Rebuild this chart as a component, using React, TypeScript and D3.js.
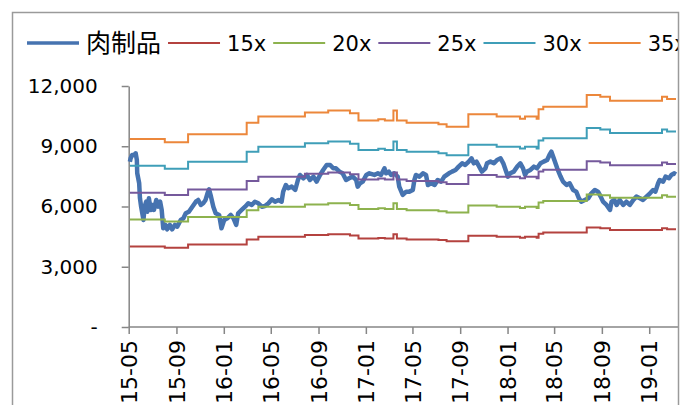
import React, { useEffect, useRef } from 'react';
import * as d3 from 'd3';

const seriesName = '肉制品';
const bandMultiples = [15, 20, 25, 30, 35];
const bandLabels = ['15x', '20x', '25x', '30x', '35x'];

// earnings per index point (value of the 1x band), changes on report dates
const epsDates = [
  '2015-05-04', '2015-08-02', '2015-10-01', '2016-02-29', '2016-03-30', '2016-07-28',
  '2016-09-26', '2016-11-21', '2016-12-13', '2017-02-02', '2017-02-19', '2017-03-13',
  '2017-03-22', '2017-04-16', '2017-07-07', '2017-07-28', '2017-09-22', '2017-12-04',
  '2018-02-02', '2018-02-15', '2018-03-17', '2018-03-22', '2018-04-03', '2018-07-24',
  '2018-08-28', '2018-09-22', '2019-02-03', '2019-02-16', '2019-03-11',
];
const epsValues = [
  267.5, 262.8, 274.1, 290.7, 299.3, 305.0,
  307.9, 304.0, 293.6, 295.7, 293.6, 307.9,
  293.6, 290.7, 288.4, 285.0, 302.6, 299.3,
  296.4, 299.3, 296.4, 309.7, 313.4, 330.1,
  327.7, 322.0, 327.7, 324.4, 324.4,
];

const priceDates = [
  '2015-05-04', '2015-05-06', '2015-05-10', '2015-05-15', '2015-05-19', '2015-05-22', '2015-05-23', '2015-05-28',
  '2015-05-30', '2015-06-02', '2015-06-08', '2015-06-11', '2015-06-15', '2015-06-18', '2015-06-22', '2015-06-27',
  '2015-07-01', '2015-07-05', '2015-07-11', '2015-07-16', '2015-07-21', '2015-07-25', '2015-07-29', '2015-08-04',
  '2015-08-08', '2015-08-15', '2015-08-21', '2015-08-28', '2015-09-03', '2015-09-12', '2015-09-19', '2015-09-25',
  '2015-10-03', '2015-10-12', '2015-10-21', '2015-10-27', '2015-11-03', '2015-11-09', '2015-11-15', '2015-11-20',
  '2015-11-24', '2015-11-28', '2015-12-05', '2015-12-11', '2015-12-20', '2015-12-26', '2016-01-02', '2016-01-10',
  '2016-01-19', '2016-01-26', '2016-02-02', '2016-02-07', '2016-02-16', '2016-02-25', '2016-03-04', '2016-03-13',
  '2016-03-21', '2016-03-30', '2016-04-08', '2016-04-16', '2016-04-25', '2016-05-04', '2016-05-12', '2016-05-21',
  '2016-05-29', '2016-06-02', '2016-06-09', '2016-06-15', '2016-06-24', '2016-07-03', '2016-07-10', '2016-07-15',
  '2016-07-24', '2016-08-02', '2016-08-10', '2016-08-19', '2016-08-27', '2016-09-05', '2016-09-13', '2016-09-22',
  '2016-10-01', '2016-10-09', '2016-10-16', '2016-10-25', '2016-11-02', '2016-11-11', '2016-11-19', '2016-11-28',
  '2016-12-07', '2016-12-11', '2016-12-17', '2016-12-24', '2017-01-02', '2017-01-10', '2017-01-23', '2017-02-01',
  '2017-02-09', '2017-02-18', '2017-02-22', '2017-03-01', '2017-03-07', '2017-03-15', '2017-03-24', '2017-03-28',
  '2017-04-06', '2017-04-15', '2017-04-23', '2017-05-02', '2017-05-06', '2017-05-10', '2017-05-19', '2017-05-28',
  '2017-06-05', '2017-06-10', '2017-06-18', '2017-06-27', '2017-07-05', '2017-07-14', '2017-07-22', '2017-08-03',
  '2017-08-11', '2017-08-20', '2017-08-28', '2017-09-06', '2017-09-14', '2017-09-23', '2017-09-30', '2017-10-06',
  '2017-10-13', '2017-10-20', '2017-10-27', '2017-11-05', '2017-11-09', '2017-11-18', '2017-11-27', '2017-12-05',
  '2017-12-14', '2017-12-21', '2017-12-27', '2018-01-02', '2018-01-08', '2018-01-17', '2018-01-26', '2018-02-03',
  '2018-02-10', '2018-02-15', '2018-02-20', '2018-03-01', '2018-03-10', '2018-03-18', '2018-03-27', '2018-04-04',
  '2018-04-13', '2018-04-19', '2018-04-24', '2018-04-30', '2018-05-09', '2018-05-17', '2018-05-24', '2018-06-02',
  '2018-06-10', '2018-06-19', '2018-06-27', '2018-07-04', '2018-07-10', '2018-07-19', '2018-07-28', '2018-08-05',
  '2018-08-14', '2018-08-22', '2018-08-29', '2018-09-04', '2018-09-13', '2018-09-22', '2018-09-26', '2018-10-03',
  '2018-10-09', '2018-10-17', '2018-10-26', '2018-11-03', '2018-11-12', '2018-11-21', '2018-11-29', '2018-12-08',
  '2018-12-16', '2018-12-25', '2019-01-03', '2019-01-11', '2019-01-17', '2019-01-24', '2019-01-28', '2019-02-06',
  '2019-02-12', '2019-02-21', '2019-02-27', '2019-03-06', '2019-03-11',
];
const priceValues = [
  8230, 8400, 8566, 8560, 8650, 8317, 7654, 7156,
  6409, 5991, 5329, 5991, 6240, 5742, 6409, 5827,
  6076, 5827, 6325, 5991, 6240, 5827, 4914, 5080,
  4864, 5080, 4864, 5080, 4996, 5329, 5412, 5661,
  5742, 5991, 6240, 6325, 6076, 6160, 6325, 6658,
  6857, 6574, 5991, 5661, 5578, 4914, 5329, 5412,
  5578, 5412, 5080, 5661, 5827, 5991, 6160, 6076,
  6240, 6160, 5991, 6026, 6160, 6358, 6240, 6325,
  6240, 6740, 7072, 6907, 6990, 6823, 7321, 7570,
  7404, 7570, 7321, 7487, 7238, 7570, 7819, 8068,
  8068, 7902, 7900, 7736, 7653, 7321, 7404, 7487,
  7321, 6990, 7155, 7238, 7570, 7653, 7570, 7653,
  7570, 7902, 7653, 7736, 7570, 7653, 7487, 6990,
  6574, 6740, 6740, 6823, 7321, 7570, 7487, 7653,
  7570, 7072, 7155, 7072, 7321, 7238, 7487, 7653,
  7736, 7819, 7985, 8151, 8068, 8234, 8400, 8151,
  8234, 7985, 7736, 7902, 8151, 8234, 8151, 8317,
  8400, 8151, 7819, 7487, 7653, 7736, 7985, 8151,
  7902, 7570, 7736, 7819, 7985, 7902, 8151, 8234,
  8317, 8566, 8732, 8400, 7902, 7520, 7238, 7072,
  7155, 6823, 6740, 6409, 6240, 6325, 6409, 6658,
  6823, 6740, 6491, 6240, 6076, 5827, 6240, 6325,
  6076, 6325, 6076, 6240, 6076, 6325, 6491, 6409,
  6325, 6491, 6658, 6823, 6740, 7155, 7321, 7238,
  7487, 7404, 7570, 7653, 7600,
];

const yTicks = [0, 3000, 6000, 9000, 12000];
const xStart = '2015-05-01';
const xEnd = '2019-03-11';

const priceColor = '#4673B0';
const bandColors = ['#B4423F', '#8DB24E', '#75599C', '#3F9EB8', '#EC873B'];

export default function App() {
  const svgRef = useRef<SVGSVGElement>(null);

  useEffect(() => {
    if (!svgRef.current) return;
    const svg = d3.select(svgRef.current);
    svg.selectAll('*').remove();

    const font = "'DejaVu Sans', 'Noto Sans CJK SC', sans-serif";
    const cjkFont = "'Noto Sans CJK SC', sans-serif";
    const axisColor = '#868686';
    const parse = d3.timeParse('%Y-%m-%d');

    const x = d3.scaleTime()
      .domain([parse(xStart)!, parse(xEnd)!])
      .range([128.7, 676]);
    const y = d3.scaleLinear().domain([0, 12000]).range([327, 86]);

    svg.append('defs').append('clipPath').attr('id', 'frameClip')
      .append('rect').attr('x', 13).attr('y', 13).attr('width', 665).attr('height', 400);

    const root = svg.append('g').attr('clip-path', 'url(#frameClip)');

    // y axis
    const yAxis = root.append('g')
      .attr('transform', `translate(${x.range()[0]},0)`)
      .call(d3.axisLeft(y)
        .tickValues(yTicks)
        .tickSize(7)
        .tickSizeOuter(0)
        .tickPadding(24)
        .tickFormat(d => (+d === 0 ? '-' : d3.format(',')(+d))));
    yAxis.selectAll('path,line').attr('stroke', axisColor).attr('stroke-width', 1.5);
    yAxis.selectAll('text')
      .attr('font-family', font).attr('font-size', 20).attr('fill', '#000');

    // x axis
    const xTicks = x.ticks(d3.timeMonth.every(4)!);
    const xAxis = root.append('g')
      .attr('transform', `translate(0,${y(0)})`)
      .call(d3.axisBottom(x)
        .tickValues(xTicks)
        .tickSize(7)
        .tickSizeOuter(0)
        .tickFormat(d => d3.timeFormat('%y-%m')(d as Date)));
    xAxis.select('.domain').attr('d', `M${x.range()[0]},0H678`);
    xAxis.selectAll('path,line').attr('stroke', axisColor).attr('stroke-width', 1.5);
    xAxis.selectAll('text')
      .attr('font-family', font).attr('font-size', 22).attr('fill', '#000')
      .attr('transform', 'rotate(-90)')
      .attr('x', -13).attr('y', 0).attr('dy', '0.35em')
      .attr('text-anchor', 'end');

    // price line
    const price = priceDates.map((d, i) => ({ date: parse(d)!, value: priceValues[i] }));
    const line = d3.line<{ date: Date; value: number }>()
      .x(d => x(d.date))
      .y(d => y(d.value));
    root.append('path')
      .datum(price)
      .attr('fill', 'none')
      .attr('stroke', priceColor)
      .attr('stroke-width', 4.5)
      .attr('stroke-linejoin', 'round')
      .attr('d', line);

    // PE bands
    const stepLine = d3.line<{ date: Date; value: number }>()
      .x(d => x(d.date))
      .y(d => y(d.value))
      .curve(d3.curveStepAfter);
    bandMultiples.forEach((m, k) => {
      const pts = epsDates.map((d, i) => ({ date: parse(d)!, value: epsValues[i] * m }));
      root.append('path')
        .datum(pts)
        .attr('fill', 'none')
        .attr('stroke', bandColors[k])
        .attr('stroke-width', 2)
        .attr('d', stepLine);
    });

    // legend
    const legendItems = [
      { label: seriesName, color: priceColor, width: 3.5, family: cjkFont, size: 25 },
      ...bandLabels.map((l, k) => ({ label: l, color: bandColors[k], width: 2, family: font, size: 21 })),
    ];
    const ly = 43;
    let cx = 27;
    const legend = root.append('g');
    legendItems.forEach(item => {
      legend.append('line')
        .attr('x1', cx).attr('x2', cx + 52)
        .attr('y1', ly).attr('y2', ly)
        .attr('stroke', item.color).attr('stroke-width', item.width);
      const t = legend.append('text')
        .attr('x', cx + 59).attr('y', ly)
        .attr('dy', '0.36em')
        .attr('font-family', item.family).attr('font-size', item.size).attr('fill', '#000')
        .text(item.label);
      const w = (t.node() as SVGTextElement).getComputedTextLength();
      cx = cx + 59 + w + 7;
    });

    // outer frame
    svg.append('rect')
      .attr('x', 12.5).attr('y', 12.5).attr('width', 666).attr('height', 500)
      .attr('fill', 'none').attr('stroke', '#9a9a9a').attr('stroke-width', 1.5);
  }, []);

  return (
    <div style={{ position: 'fixed', left: 0, top: 0, background: '#fff' }}>
      <svg ref={svgRef} width={695} height={405} />
    </div>
  );
}
